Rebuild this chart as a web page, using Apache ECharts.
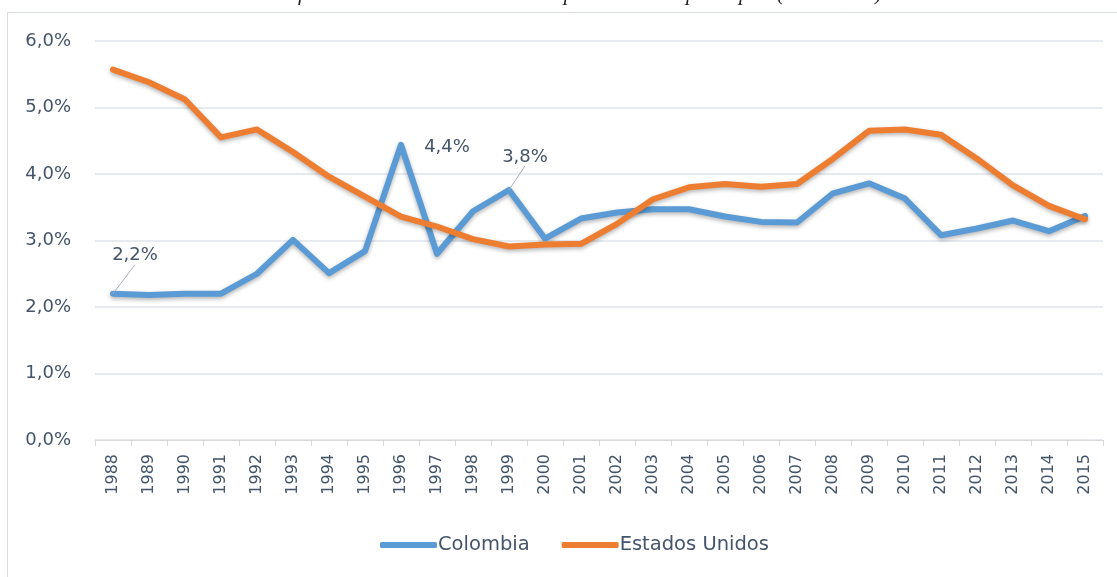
<!DOCTYPE html>
<html>
<head>
<meta charset="utf-8">
<script src="https://cdn.jsdelivr.net/npm/echarts@6/dist/echarts.min.js"></script>
<style>
  html, body { margin: 0; padding: 0; background: #fff; }
  #chart { width: 1117px; height: 577px; }
</style>
</head>
<body>
<div id="chart"></div>
<script>
var years = ['1988', '1989', '1990', '1991', '1992', '1993', '1994', '1995', '1996', '1997',
             '1998', '1999', '2000', '2001', '2002', '2003', '2004', '2005', '2006', '2007',
             '2008', '2009', '2010', '2011', '2012', '2013', '2014', '2015'];

var colombia = [2.20, 2.18, 2.20, 2.20, 2.50, 3.01, 2.51, 2.84, 4.44, 2.80,
                3.44, 3.76, 3.03, 3.33, 3.42, 3.47, 3.47, 3.36, 3.28, 3.27,
                3.71, 3.86, 3.63, 3.08, 3.18, 3.30, 3.14, 3.37];

var estadosUnidos = [5.57, 5.38, 5.12, 4.55, 4.67, 4.33, 3.96, 3.66, 3.36, 3.21,
                     3.02, 2.91, 2.94, 2.95, 3.25, 3.62, 3.80, 3.85, 3.81, 3.85,
                     4.23, 4.65, 4.67, 4.59, 4.23, 3.83, 3.52, 3.32];

// points of Colombia that carry a data label: offset and whether a leader line is drawn
var colombiaLabels = {
    0:  { off: [22, -24], line: true },
    8:  { off: [46, 17],  line: false },
    11: { off: [16, -19], line: true }
};

var TEXT = '#44546a';
var FONT = '"DejaVu Sans", "Noto Sans", sans-serif';

function pct(v) {
    return v.toFixed(1).replace('.', ',') + '%';
}

var chart = echarts.init(document.getElementById('chart'), null, { renderer: 'canvas' });

chart.setOption({
    animation: false,
    textStyle: { fontFamily: FONT },
    graphic: [
        {
            type: 'rect',
            shape: { x: 7.5, y: 12.5, width: 1200, height: 700 },
            style: { fill: 'none', stroke: '#d9dee5', lineWidth: 1 },
            silent: true
        },
        {
            type: 'text',
            x: 573,
            y: -16,
            style: {
                text: 'Gráfico 1. Crecimiento anual de la productividad per cápita (1988-2015)',
                font: 'italic 21px "Liberation Serif", "DejaVu Serif", serif',
                fill: '#222',
                align: 'center'
            }
        }
    ],
    grid: { left: 95, right: 14, top: 41, bottom: 137 },
    legend: {
        bottom: 17,
        left: 375,
        icon: 'roundRect',
        itemWidth: 57,
        itemHeight: 6,
        itemGap: 32,
        textStyle: { color: TEXT, fontSize: 19.5, fontFamily: FONT, padding: [0, 0, 0, -4] },
        data: ['Colombia', 'Estados Unidos']
    },
    xAxis: {
        type: 'category',
        data: years,
        boundaryGap: true,
        axisLine: { lineStyle: { color: '#d9d9d9', width: 1 } },
        axisTick: { show: true, length: 6, lineStyle: { color: '#d9d9d9' } },
        axisLabel: { rotate: 90, color: TEXT, fontSize: 16, margin: 14, interval: 0 }
    },
    yAxis: {
        type: 'value',
        min: 0,
        max: 6,
        interval: 1,
        axisLine: { show: false },
        axisTick: { show: false },
        splitLine: { lineStyle: { color: '#dfe4ea', width: 1.5 } },
        axisLabel: {
            color: TEXT,
            fontSize: 18,
            margin: 24,
            formatter: function (v) { return pct(v); }
        }
    },
    series: [
        {
            name: 'Colombia',
            type: 'line',
            showSymbol: true,
            symbol: 'circle',
            symbolSize: 0.1,
            data: colombia.map(function (v, i) {
                var lab = colombiaLabels[i];
                if (lab) {
                    return {
                        value: v,
                        label: {
                            show: true,
                            position: 'top',
                            color: TEXT,
                            fontSize: 18,
                            formatter: function (p) { return pct(p.value); }
                        },
                        labelLine: { show: lab.line }
                    };
                }
                return v;
            }),
            labelLayout: function (p) {
                var lab = colombiaLabels[p.dataIndex];
                var off = lab ? lab.off : [0, 0];
                return { dx: off[0], dy: off[1] };
            },
            labelLine: { show: true, lineStyle: { color: '#a6aeb8', width: 1 } },
            lineStyle: {
                color: '#5b9bd5', width: 6, cap: 'round', join: 'round',
                shadowColor: 'rgba(0,0,0,0.3)', shadowBlur: 4, shadowOffsetY: 2
            },
            itemStyle: { color: '#5b9bd5' },
            z: 2
        },
        {
            name: 'Estados Unidos',
            type: 'line',
            showSymbol: false,
            symbol: 'none',
            data: estadosUnidos,
            lineStyle: {
                color: '#ed7d31', width: 6, cap: 'round', join: 'round',
                shadowColor: 'rgba(0,0,0,0.3)', shadowBlur: 4, shadowOffsetY: 2
            },
            itemStyle: { color: '#ed7d31' },
            z: 3
        }
    ]
});
</script>
</body>
</html>
